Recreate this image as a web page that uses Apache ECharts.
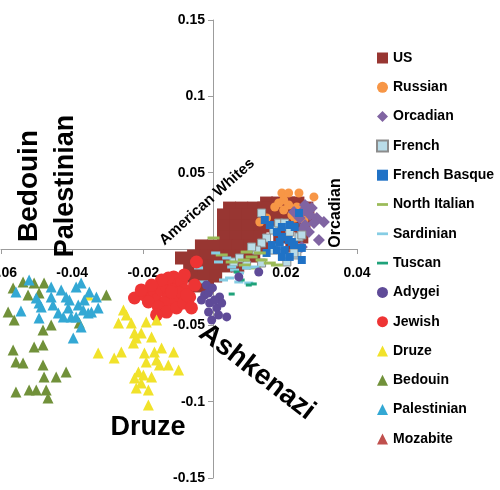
<!DOCTYPE html>
<html>
<head>
<meta charset="utf-8">
<script src="https://cdn.jsdelivr.net/npm/echarts@6/dist/echarts.min.js"></script>
<style>
  html, body { margin: 0; padding: 0; background: #fff; }
  #chart { width: 500px; height: 490px; }
</style>
</head>
<body>
<div id="chart"></div>
<script>
// PC scatter, values
const xTicks = [-0.06, 0.04, 0.02];   // min, max, interval
const yTicks = [-0.15, 0.15, 0.05];

const us = [
  [0.0146, 0.0301], [0.0177, 0.0301], [0.0208, 0.0301], [0.0234, 0.0301],
  [0.0042, 0.0268], [0.0076, 0.0268], [0.011, 0.0268], [0.0138, 0.0268], [0.0245, 0.0268], [0.0259, 0.0268],
  [0.0025, 0.0223], [0.0059, 0.0223], [0.0093, 0.0223], [0.0127, 0.0223], [0.0161, 0.0223], [0.0194, 0.0223], [0.0228, 0.0223], [0.0262, 0.0223],
  [0.0025, 0.0151], [0.0059, 0.0151], [0.0093, 0.0151], [0.0127, 0.0151], [0.0161, 0.0151], [0.0217, 0.0151], [0.0251, 0.0151],
  [0.0025, 0.0079], [0.0059, 0.0079], [0.0093, 0.0079], [0.0127, 0.0079], [0.0183, 0.0079], [0.0245, 0.0079],
  [-0.0037, 0.002], [-0.0003, 0.002], [0.0031, 0.002], [0.0065, 0.002], [0.0099, 0.002], [0.0132, 0.002], [0.0217, 0.002],
  [-0.0059, -0.0046], [-0.0025, -0.0046], [0.0008, -0.0046], [0.0042, -0.0046], [0.0076, -0.0046], [0.011, -0.0046],
  [-0.007, -0.0111], [-0.0037, -0.0111], [-0.0003, -0.0111], [0.0031, -0.0111], [0.0065, -0.0111],
  [-0.0065, -0.0177], [-0.0031, -0.0177], [0.0003, -0.0177],
  [-0.002, -0.0242], [-0.0054, -0.0242], [-0.0093, -0.0059]
];
const russian = [
  [0.0189, 0.0367], [0.0208, 0.0367], [0.0237, 0.0367], [0.0279, 0.0341], [0.0169, 0.0275], [0.0194, 0.0255],
  [0.0208, 0.0288], [0.0217, 0.0223], [0.0239, 0.0236], [0.0251, 0.019], [0.0127, 0.0177], [0.0146, 0.0203],
  [0.0231, 0.0275], [0.0194, 0.0321], [0.018, 0.0301], [0.0225, 0.0203]
];
const orcadian = [
  [0.0251, 0.0255], [0.0268, 0.0223], [0.0287, 0.0203], [0.0307, 0.0177], [0.0279, 0.017], [0.0239, 0.0203],
  [0.0254, 0.0157], [0.0293, 0.0059], [0.0265, 0.0111], [0.0254, 0.0288], [0.0245, 0.0124], [0.0245, 0.0013],
  [0.0223, 0.0242], [0.0273, 0.0268]
];
const french = [
  [0.0132, 0.0236], [0.0166, 0.0124], [0.0146, 0.0072], [0.0132, 0.0039], [0.0211, 0.0111], [0.0237, 0.0079],
  [0.0231, -0.0039], [0.0132, -0.0092], [0.018, 0.017], [0.0197, 0.017], [0.0245, 0.0092], [0.0166, -0.0007],
  [0.0118, -0.0007], [0.0104, 0.0013], [0.0223, -0.0026], [0.0203, -0.0085], [0.009, -0.0105], [0.0054, -0.0085],
  [0.007, -0.0059]
];
const frenchBasque = [
  [0.0141, 0.019], [0.0155, 0.0157], [0.0175, 0.0111], [0.0189, 0.0079], [0.0183, 0.0046], [0.0208, 0.0059],
  [0.0223, 0.0026], [0.0197, -0.0007], [0.0175, -0.0007], [0.0161, 0.0026], [0.0211, 0.0157], [0.0225, 0.0144],
  [0.0245, 0.0007], [0.0189, 0.0144], [0.0146, -0.0026], [0.0189, -0.0052], [0.0211, -0.0052], [0.0245, -0.0072],
  [0.0237, 0.0236], [0.0217, 0.0046]
];
const northItalian = [
  [-0.0003, 0.0072], [0.009, -0.002], [0.0104, -0.0052], [0.0132, -0.0072], [0.0082, -0.0072], [0.0155, -0.0092],
  [0.0113, -0.0124], [0.0085, -0.0105], [0.0048, -0.0085], [0.002, -0.0039], [0.0175, -0.0105], [0.0127, -0.0026]
];
const sardinian = [
  [0.0011, -0.0085], [0.0048, -0.0118], [0.0056, -0.0138], [0.007, -0.0157], [0.0042, -0.019], [0.0068, -0.0216],
  [0.0096, -0.0223], [-0.0045, -0.0124], [-0.0031, -0.0216], [0.009, -0.0124], [0.0025, -0.0203], [0.0113, -0.0118],
  [0.0003, -0.0026], [0.0034, -0.0059]
];
const tuscan = [[0.0048, -0.0295], [0.0096, -0.0236], [0.0076, -0.0203], [0.011, -0.0229], [0.0062, -0.0151]];
const adygei = [
  [-0.0028, -0.0301], [-0.0014, -0.0354], [0.0014, -0.0314], [-0.0017, -0.0413], [0.0006, -0.0386], [0.002, -0.0354],
  [0.0034, -0.0445], [-0.0008, -0.0465], [-0.0017, -0.0288], [0, -0.0334], [0.0068, -0.0183], [0.0124, -0.0151],
  [-0.0023, -0.0236], [-0.0037, -0.0334], [0.0011, -0.0432], [-0.0006, -0.0255]
];
const jewish = [
  [-0.0225, -0.0321], [-0.0197, -0.0301], [-0.0183, -0.0268], [-0.0169, -0.0288], [-0.0163, -0.0334], [-0.0186, -0.0347],
  [-0.0149, -0.0268], [-0.0135, -0.0249], [-0.013, -0.0314], [-0.0113, -0.0236], [-0.0115, -0.0183], [-0.0093, -0.0216],
  [-0.0085, -0.0268], [-0.0099, -0.0288], [-0.0115, -0.0347], [-0.0141, -0.0354], [-0.0158, -0.038], [-0.0135, -0.0413],
  [-0.0107, -0.0386], [-0.0087, -0.0354], [-0.007, -0.0314], [-0.0065, -0.0386], [-0.0056, -0.0236], [-0.0085, -0.017],
  [-0.0163, -0.0432], [-0.013, -0.019], [-0.0051, -0.0085], [-0.0149, -0.0203], [-0.0177, -0.0236], [-0.0121, -0.0282],
  [-0.0079, -0.0301], [-0.0206, -0.0268]
];
const druze = [
  [-0.0355, -0.0301], [-0.0327, -0.0681], [-0.0282, -0.0714], [-0.0256, -0.04], [-0.027, -0.0485], [-0.0234, -0.0485],
  [-0.0225, -0.055], [-0.0206, -0.055], [-0.0228, -0.0616], [-0.0192, -0.0478], [-0.0163, -0.0465], [-0.0177, -0.0576],
  [-0.0262, -0.0675], [-0.0197, -0.0681], [-0.0169, -0.0675], [-0.0149, -0.0648], [-0.0115, -0.0675], [-0.0192, -0.074],
  [-0.0163, -0.0727], [-0.0155, -0.076], [-0.013, -0.076], [-0.0101, -0.0792], [-0.0214, -0.0806], [-0.02, -0.0825],
  [-0.0225, -0.0845], [-0.0177, -0.0838], [-0.022, -0.091], [-0.0186, -0.0923], [-0.0186, -0.1022], [-0.0206, -0.0878],
  [-0.0248, -0.0432], [-0.022, -0.0583]
];
const bedouin = [
  [-0.0566, -0.0255], [-0.0538, -0.0216], [-0.0507, -0.0223], [-0.0479, -0.0223], [-0.058, -0.0413], [-0.0563, -0.0465],
  [-0.0524, -0.0301], [-0.0493, -0.0288], [-0.0304, -0.0301], [-0.0482, -0.053], [-0.0459, -0.0498], [-0.0566, -0.0661],
  [-0.0507, -0.0642], [-0.0482, -0.0629], [-0.0558, -0.074], [-0.0538, -0.0747], [-0.0482, -0.076], [-0.0479, -0.0838],
  [-0.0445, -0.0838], [-0.0417, -0.0806], [-0.0558, -0.0936], [-0.0521, -0.0923], [-0.0501, -0.0923], [-0.0473, -0.0923],
  [-0.0468, -0.0976], [-0.038, -0.0485]
];
const palestinian = [
  [-0.0521, -0.0203], [-0.0558, -0.0282], [-0.0544, -0.0406], [-0.0501, -0.0321], [-0.0493, -0.0354], [-0.0487, -0.038],
  [-0.0493, -0.0452], [-0.0459, -0.0249], [-0.0459, -0.0314], [-0.0454, -0.0367], [-0.0439, -0.0419], [-0.0417, -0.0314],
  [-0.0411, -0.0386], [-0.0403, -0.0445], [-0.0389, -0.0249], [-0.0375, -0.0223], [-0.0383, -0.0367], [-0.0369, -0.04],
  [-0.0366, -0.0334], [-0.0355, -0.0419], [-0.0375, -0.0511], [-0.0397, -0.0583], [-0.0332, -0.0314], [-0.0327, -0.0386],
  [-0.0346, -0.0413], [-0.0389, -0.0445], [-0.0425, -0.0445], [-0.0408, -0.0334], [-0.0431, -0.0268], [-0.0352, -0.0282]
];
const mozabite = [];

const dash = 'path://M0,0h12v3h-12z';
const groups = [
  { name: 'US', data: us, symbol: 'rect', size: 13, color: '#983632' },
  { name: 'Russian', data: russian, symbol: 'circle', size: 9, color: '#f79646' },
  { name: 'Orcadian', data: orcadian, symbol: 'diamond', size: 12, color: '#8064a2' },
  { name: 'French', data: french, symbol: 'rect', size: 8, color: '#b9dce8', border: '#8c8c8c' },
  { name: 'French Basque', data: frenchBasque, symbol: 'rect', size: 8, color: '#2072c6' },
  { name: 'North Italian', data: northItalian, symbol: 'rect', size: [12, 3], color: '#9bbb59', icon: dash },
  { name: 'Sardinian', data: sardinian, symbol: 'rect', size: [9, 3], color: '#86cde4', icon: dash },
  { name: 'Tuscan', data: tuscan, symbol: 'rect', size: [6, 3], color: '#1fa27a', icon: dash },
  { name: 'Adygei', data: adygei, symbol: 'circle', size: 9, color: '#5f4b98' },
  { name: 'Jewish', data: jewish, symbol: 'circle', size: 13, color: '#ee3434' },
  { name: 'Druze', data: druze, symbol: 'triangle', size: 11, color: '#f1e22a' },
  { name: 'Bedouin', data: bedouin, symbol: 'triangle', size: 11, color: '#71913a' },
  { name: 'Palestinian', data: palestinian, symbol: 'triangle', size: 11, color: '#33a8d4' },
  { name: 'Mozabite', data: mozabite, symbol: 'triangle', size: 11, color: '#c0504d' }
];

const bold = 'bold 28px "Liberation Sans", Arial, sans-serif';
function label(text, x, y, rot, font) {
  return {
    type: 'text', x: x, y: y, rotation: rot, z: 100,
    style: { text: text, font: font, fill: '#000', textAlign: 'center', textVerticalAlign: 'middle', align: 'center', verticalAlign: 'middle' }
  };
}

const axisCommon = {
  type: 'value',
  splitLine: { show: false },
  axisLine: { onZero: false, lineStyle: { color: '#9c9c9c', width: 1 } },
  axisTick: { show: true, length: 5, lineStyle: { color: '#9c9c9c' } },
  axisLabel: { color: '#000', fontWeight: 'bold', fontSize: 14, fontFamily: '"Liberation Sans", Arial, sans-serif' }
};

const chart = echarts.init(document.getElementById('chart'));
chart.setOption({
  animation: false,
  backgroundColor: '#fff',
  grid: { left: 1, right: 143, top: 20, bottom: 12, outerBoundsMode: 'none', containLabel: false },
  // axes sit at the origin: shift them from the grid edge to zero
  xAxis: Object.assign({}, axisCommon, {
    position: 'bottom', offset: -229,
    min: xTicks[0], max: xTicks[1], interval: xTicks[2],
    axisLabel: Object.assign({}, axisCommon.axisLabel, { margin: 17 })
  }),
  yAxis: Object.assign({}, axisCommon, {
    position: 'left', offset: -212,
    min: yTicks[0], max: yTicks[1], interval: yTicks[2],
    axisLabel: Object.assign({}, axisCommon.axisLabel, { margin: 8 })
  }),
  legend: {
    orient: 'vertical', left: 376, top: 51, padding: 0,
    itemWidth: 11, itemHeight: 11, itemGap: 15.3,
    textStyle: { fontSize: 14, fontWeight: 'bold', color: '#000', lineHeight: 14, fontFamily: '"Liberation Sans", Arial, sans-serif' },
    data: groups.map(g => g.icon ? { name: g.name, icon: g.icon } : { name: g.name })
  },
  graphic: [
    label('Bedouin', 29, 186, Math.PI / 2, bold),
    label('Palestinian', 66, 186, Math.PI / 2, 'bold 27px "Liberation Sans", Arial, sans-serif'),
    label('American Whites', 207, 202, 0.73, 'bold 15px "Liberation Sans", Arial, sans-serif'),
    label('Orcadian', 336, 213, Math.PI / 2, 'bold 16px "Liberation Sans", Arial, sans-serif'),
    label('Ashkenazi', 257, 372, -0.66, bold),
    label('Druze', 148, 428, 0, 'bold 27px "Liberation Sans", Arial, sans-serif')
  ],
  series: groups.map(g => ({
    name: g.name,
    type: 'scatter',
    data: g.data,
    symbol: g.symbol,
    symbolSize: g.size,
    itemStyle: g.border
      ? { color: g.color, borderColor: g.border, borderWidth: 1, opacity: 1 }
      : { color: g.color, opacity: 1 }
  }))
});
</script>
</body>
</html>
